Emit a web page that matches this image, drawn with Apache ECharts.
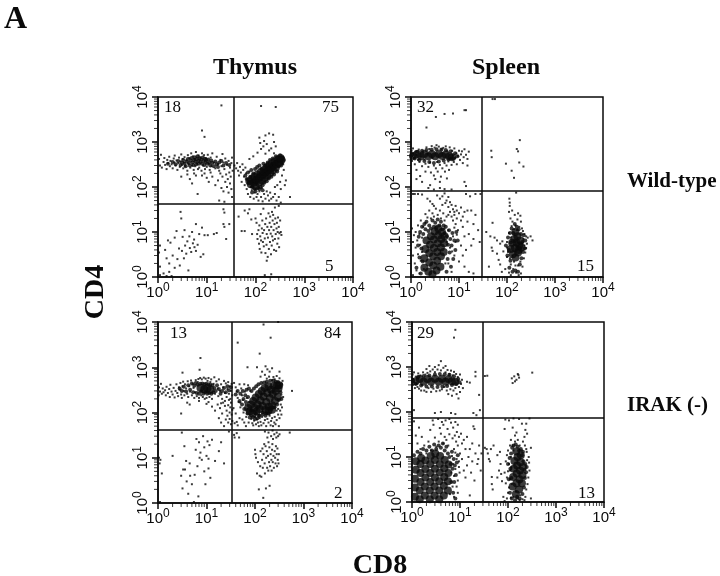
<!DOCTYPE html>
<html>
<head>
<meta charset="utf-8">
<title>CD4 / CD8</title>
<style>
    html, body { margin: 0; padding: 0; background: #fff; }
    #chart { width: 720px; height: 576px; }
</style>
<script src="https://cdn.jsdelivr.net/npm/echarts@6/dist/echarts.min.js"></script>
</head>
<body>
<div id="chart"></div>
<script>
    // every pair is [CD8, CD4]
    const thymusWtDots = [
        [1.05,420],[1.1,300],[1.15,520],[1.2,270],[1.3,360],[1.35,440],[1.4,310],[1.5,250],[1.55,400],[1.6,340],[1.7,470],[1.75,290],[1.8,380],[1.9,320],[2,260],[2.1,430],[2.15,350],[2.2,500],[2.3,300],[2.4,390],[2.5,240],[2.6,340],[2.7,450],[2.8,280],[2.9,370],[3,530],[3.1,310],[3.2,420],[3.3,260],[3.4,350],[3.5,460],[3.6,290],[3.8,390],[4,230],[4.1,510],[4.2,330],[4.4,440],[4.6,270],[4.8,560],[5,300],[5.2,480],[5.4,240],[5.6,420],[5.8,290],[6,600],[6.3,330],[6.6,250],[6.8,500],[7,270],[7.4,460],[7.8,230],[8,560],[8.4,300],[8.8,510],[9.2,250],[9.6,440],[10,280],[10.5,520],[11,330],[11.5,240],[12,450],[12.5,290],[13,560],[14,350],[15,260],[16,470],[17,320],[18,230],[19,400],[20,290],[21,540],[22,350],[23,250],[24,430],[26,310],[28,380],[30,270],[32,340],[33,450],[34,230],
        [3,170],[4,190],[4.5,150],[5,120],[5.5,200],[6,180],[6.5,70],[8,180],[9,200],[10,160],[11,130],[12,210],[13,170],[15,110],[17,140],[19,200],[20,95],[21,170],[22,80],[24,130],[25,190],[26,100],[27,150],[28,75],[29,210],[30,120],[31,170],[32,90],[33,60],[18,50],[23,47],
        [20,6500],[8,1800],[9,1300],[130,6300],[260,6000],[150,1050],[160,1400],[190,1550],[230,1450],[120,1250],[125,950],[145,800],[170,900],[190,650],[240,1000],[260,800],[130,700],[210,720],[160,550],[110,580],[240,560],[90,480],[75,420],
        [37,300],[40,260],[42,340],[44,230],[46,180],[48,280],[50,210],[52,130],[54,320],[56,240],[58,170],[60,110],[62,270],[64,200],[66,90],[68,150],[70,70],[72,120],[75,220],[78,60],[80,100],[84,85],[88,130],[92,55],[96,75],[100,90],[105,60],[110,70],[115,50],[120,80],[130,60],[135,95],[140,48],[150,70],[160,55],[170,80],[180,65],[190,50],[200,75],[210,55],[230,60],[250,70],[270,50],[300,60],[330,45],[400,110],[420,140],[350,180],[320,130],[380,240],[370,320],[340,380],[360,430],[300,470],[280,110],[250,100],[510,60],[330,90],
        [1.1,5],[1.05,3.5],[1.1,1.7],[1.1,1.1],[1.3,1.2],[1.5,1.05],[1.7,1.3],[1.9,1.05],[1.4,4],[1.5,2.6],[1.6,6.5],[1.7,2],[1.8,5.8],[2,3],[2.2,1.6],[2.2,7.5],[2.4,10.5],[2.5,2.5],[2.7,4.3],[2.8,1.8],[2.9,28],[3,20],[3.1,3.8],[3.2,7.8],[3.4,2.6],[3.5,11],[3.6,5],[3.8,3.3],[4,6.2],[4.2,1.4],[4.4,8],[4.5,4.4],[4.8,3.6],[5,10],[5.2,5.6],[5.5,6.8],[5.6,4.6],[6,15],[6,3.8],[6.5,5.2],[7,9],[7.5,2.8],[8,12.5],[8.5,3.2],[9,8.5],[10.5,8.5],[14,9],[16,9.5],[22,15],[23,13],[25,7],[22,32],[23,27],[29,15],
        [60,30],[70,26],[45,22],[52,10.5],[60,10.5],[75,32],[82,19],[85,9],[100,20],[105,16],[108,9],[110,7],[115,11],[118,5.5],[120,14],[122,4.2],[125,8],[128,25],[130,6.5],[132,3.5],[135,12],[138,18],[140,9.5],[142,6],[145,33],[148,4.8],[150,11],[155,7.2],[158,15],[160,3.4],[165,20],[168,5.2],[170,9],[175,13],[178,2.8],[180,7.5],[185,26],[188,4.2],[190,11],[195,16],[198,6],[200,22],[205,9.2],[208,3.2],[210,13],[215,5],[218,28],[220,8],[225,18],[228,6.5],[230,24],[235,11],[240,4],[245,15],[250,7],[255,20],[260,9],[265,3.8],[270,12],[275,16],[280,5.5],[285,10],[290,21],[295,7.2],[300,13],[305,4.6],[310,9.4],[320,18],[330,10],[340,8.6],[170,2.3],[155,1.1],[210,1.15],[250,35],[300,38]
    ];
    const thymusWtMid = [
        [1.6,330],[2,360],[2.3,320],[2.6,380],[2.9,310],[3.1,350],[3.3,400],[3.5,330],[3.7,290],[3.9,370],[4.1,420],[4.3,340],[4.5,300],[4.7,390],[4.9,440],[5.1,350],[5.3,310],[5.5,400],[5.7,460],[5.9,370],[6.1,320],[6.3,420],[6.5,480],[6.7,380],[6.9,330],[7.1,430],[7.4,360],[7.7,410],[8,330],[8.3,450],[8.6,380],[8.9,310],[9.2,420],[9.5,360],[9.8,400],[10.2,330],[10.7,410],[11.2,350],[11.8,300],[12.4,390],[13,340],[14,290],[15,370],[16,320],[17,280],[18,350],[20,380],[22,300],[25,340],[29,310],
        [62,180],[66,150],[70,210],[72,130],[78,170],[82,240],[86,100],[90,200],[96,90],[98,250],[104,125],[108,280],[112,95],[120,300],[126,100],[132,250],[140,110],[145,330],[152,125],[160,300],[170,135],[178,350],[188,155],[198,400],[212,170],[225,430],[240,190],[262,480],[278,220],[300,290],[320,510],[350,340],[360,450],[380,400],[335,300],[120,90],[140,85],[100,80],[85,75]
    ];
    const thymusWtCore = [
        [75,135],[80,115],[85,150],[92,125],[95,170],[100,105],[105,145],[110,190],[118,125],[122,165],[128,215],[135,140],[140,185],[148,240],[155,160],[160,210],[168,270],[175,180],[182,235],[190,300],[200,205],[207,262],[218,335],[228,235],[235,295],[250,370],[262,270],[270,330],[290,410],[305,350],[325,440],[340,400]
    ];

    const spleenWtDots = [
        [1.03,640],[1.05,480],[1.05,380],[1.1,560],[1.1,720],[1.15,440],[1.2,320],[1.25,610],[1.3,520],[1.3,240],[1.4,400],[1.45,680],[1.5,360],[1.55,175],[1.6,470],[1.7,290],[1.8,590],[1.9,410],[2,330],[2,220],[2.1,760],[2.2,540],[2.3,280],[2.4,700],[2.5,350],[2.6,210],[2.7,810],[2.8,440],[3,300],[3,180],[3.1,750],[3.3,260],[3.4,850],[3.5,360],[3.6,220],[3.8,790],[4,310],[4.2,170],[4.3,690],[4.5,260],[4.7,740],[5,340],[5.1,220],[5.3,800],[5.5,300],[5.7,640],[6,370],[6.2,240],[6.4,760],[6.6,440],[7,310],[7.2,640],[7.5,500],[7.8,360],[8,720],[8.4,440],[8.8,560],[9,320],[9.5,490],[10,640],[10.5,400],[11,530],[11.5,620],[12,340],[12.5,460],[13,690],[14,520],[15,300],[15,420],[16,610],[13,130],[14,105],
        [2.1,2100],[3.3,3600],[5,4200],[7.5,4300],[13,5100],[14,5100],[1.3,150],[1.7,130],[2.5,110],[2.3,95],[3,88],[4,95],[5,90],[7,88],[5.6,155],[4,130],[3.2,150],
        [50,9000],[56,9000],[47,640],[48,460],[95,330],[160,700],[170,620],[185,1100],[180,350],[125,230],[140,160],[220,285],
        [1.1,70],[1.2,70],[1.4,70],[1.7,68],[2.2,55],[2.5,48],[2.8,42],[3,38],[3.5,65],[4,55],[4.5,62],[4.5,40],[5,72],[5.2,44],[5.5,50],[6,60],[6,36],[6.5,46],[7,40],[7.5,32],[8,28],[8.5,38],[9,30],[10,26],[11,35],[12,22],[13,28],[14,70],[15,30],[15,17],[17,62],[18,30],[20,15],[22,70],[22,24],[25,11],[28,70],[27,6],[20,7],[16,9],[18,5],[14,4],[12,13],[13,8],[11,18],[12,3],[13,1.7],[16,1.3],[20,1.2],[11,5],[10,2.2],[9.5,11],[9,20],[8.5,15],[8,3],[8,24],[7.5,8],[7.5,18],[7,1.3],[7,22],[6.5,4.5],[6.5,28],[6,2],[6,11],[6,24],[1.05,12],[1.1,1.1],[1.1,3],[1.1,6],[1.15,8.5],[1.2,2],[1.25,4.5],[1.25,10],[1.3,1.4],[1.35,6.5],[1.4,3.2],[1.4,14],[1.5,9],[1.5,1.2],[1.55,5.2],[1.6,2.3],[1.6,18],[1.7,7.5],[1.7,3.6],[1.8,13],[1.85,1.5],[2,25],[2,16],[2.2,21],[2.4,30],[2.6,20],[2.8,26],[3,22],[3.3,33],[3.6,24],[4,30],[4.2,20],[4.7,26],[5,18],[5.5,22],[5.5,6],[5.2,2],[5,12],[8.5,6],[9,8.7],[7.2,3.7],[8,12.5],
        [50,16],[37,10],[45,8],[55,7.5],[62,6.5],[72,5.5],[80,6.2],[48,4.5],[50,3.8],[62,3.3],[67,2.4],[72,1.9],[42,1.7],[78,1.3],[84,3.7],[100,2.8],[92,1.5],[110,1.25],[120,1.1],[112,55],[114,45],[114,38],[110,28],[155,75],[128,30],[145,24],[118,20],[170,26],[190,23],[130,17],[150,14],[165,19],[180,13],[140,11.5],[205,12],[110,9.5],[120,7.5],[100,6],[230,9],[250,8],[270,7.5],[310,8],[340,6.5],[260,5.5],[240,3.5],[225,2.6],[210,1.7],[195,1.2],[175,1.1],[155,1.25],[135,1.5],[120,1.9],[115,2.6],[105,3.6],[100,4.5],[250,4.4],[220,7],[230,5],[215,10.5],[125,13.5],[160,11],[195,17],[150,1.8],[170,1.8],[190,2.2],[140,2.2],[130,3]
    ];
    const spleenWtMid = [
        [1.05,520],[1.2,430],[1.35,610],[1.5,400],[1.7,640],[1.9,380],[2.1,660],[2.4,360],[2.7,670],[3,340],[3.4,690],[3.8,370],[4.3,680],[4.8,390],[5.3,660],[6,410],[6.7,620],[7.5,430],[8.3,560],[9.3,480],
        [1.3,1.6],[1.4,5],[1.45,7.8],[1.5,2.7],[1.55,10],[1.6,1.2],[1.65,4.3],[1.7,13],[1.75,2.2],[1.8,9],[1.9,15],[2,11.5],[2.1,17],[2.3,10.5],[2.4,14],[2.6,12],[2.8,18],[3,13],[3.2,16],[3.4,12.5],[3.6,19],[3.9,14],[4.2,17],[4.5,11.5],[4.8,14],[5,9.5],[5.3,13],[5.5,1.3],[5.6,8],[5.8,2.5],[5.9,5.2],[6.2,11],[6.4,3.5],[6.6,7],[6.8,1.7],[7,5],[7.3,9.5],[7.6,2.5],[8,6.5],[8.4,4],[8.8,10],[9.4,6.5],
        [95,5],[102,3],[105,7.5],[110,4],[112,1.6],[115,9.5],[118,2.3],[120,5.8],[125,12],[130,1.3],[135,9.5],[145,15],[150,1.4],[160,13],[170,1.3],[175,11.5],[185,1.9],[195,9],[200,2.6],[210,6],[215,3.6],[222,8.5],[235,4.3],[240,6.5]
    ];
    const spleenWtCore = [
        [1.1,490],[1.35,540],[1.6,480],[1.9,540],[2.3,480],[2.7,540],[3.2,480],[3.8,540],[4.5,490],[5.3,530],[6.3,480],[7.2,460],
        [1.9,1.6],[1.9,2.6],[2,4.2],[2.1,6.5],[2.3,1.3],[2.4,2.1],[2.4,3.4],[2.5,5.2],[2.6,8],[2.8,1.15],[2.9,1.8],[2.9,2.9],[3,4.4],[3,6.8],[3.1,10.2],[3.4,1.4],[3.5,2.3],[3.5,3.6],[3.6,5.6],[3.7,8.4],[3.7,12],[4.1,1.7],[4.2,2.9],[4.2,4.5],[4.3,7],[4.4,10],[4.8,3.6],[4.9,5.6],[5,8],
        [120,4.2],[128,5.8],[132,3.2],[142,7],[146,4.4],[150,2.7],[158,5.8],[165,8],[170,3.5],[180,5],[190,6.5],[150,10],[175,4],[200,4.5]
    ];

    const thymusKoDots = [
        [1.03,240],[1.05,360],[1.1,290],[1.15,430],[1.2,260],[1.25,340],[1.3,280],[1.4,310],[1.45,240],[1.5,370],[1.6,270],[1.7,330],[1.75,220],[1.8,410],[1.9,290],[2,250],[2.1,350],[2.2,215],[2.3,300],[2.4,420],[2.5,270],[2.6,230],[2.7,360],[2.8,320],[2.9,450],[3,250],[3.1,210],[3.2,380],[3.3,480],[3.4,300],[3.5,240],[3.6,420],[3.8,340],[4,260],[4.1,490],[4.2,220],[4.4,380],[4.6,290],[4.8,510],[5,240],[5.2,430],[5.4,350],[5.6,210],[5.8,280],[6,520],[6.3,230],[6.6,470],[6.8,550],[7,210],[7.4,580],[7.8,240],[8,540],[8.4,220],[8.8,590],[9.2,200],[9.6,560],[10,210],[10.5,500],[11,580],[11.5,220],[12,470],[12.5,540],[13,200],[14,430],[14.5,600],[15,260],[16,490],[17,340],[17.5,230],[18,540],[19,300],[20,420],[21,200],[22,360],[23,500],[24,270],[25,440],[26,220],[27,330],[28,470],[29,260],[30,380],[31,200],[32,300],[33,430],[34,240],[20,160],[24,180],
        [3,95],[3.2,760],[4,165],[4.5,150],[7,180],[7.2,880],[7.5,1600],[10,155],[11,170],[13,135],[15,110],[17,150],[18,75],[19,125],[20,60],[21,95],[22,165],[23,50],[24,140],[25,70],[26,110],[27,85],[28,60],[28,145],[29,190],[30,100],[30,72],[31,130],[32,55],[32,165],[33,90],[34,115],[34,65],
        [150,8800],[300,10000],[210,4500],[125,2000],[44,3500],[70,1000],[110,1000],[140,800],[165,1050],[180,900],[200,800],[225,950],[160,680],[195,620],[240,610],[280,640],[320,800],[130,620],[175,560],[225,520],[255,540],[320,570],[370,500],[580,300],
        [37,450],[40,360],[42,290],[44,210],[46,170],[48,420],[50,130],[52,340],[54,240],[56,190],[58,100],[60,420],[62,290],[64,150],[66,80],[68,210],[70,120],[72,400],[74,60],[76,170],[78,90],[80,300],[40,95],[42,62],[44,52],[48,75],[36,125],[38,58],[50,165],[55,70],[60,60],[65,50],[84,72],[88,58],[92,52],[96,66],[100,80],[105,55],[110,70],[115,60],[120,50],[125,75],[130,62],[135,52],[140,80],[150,58],[160,68],[170,50],[180,72],[190,60],[200,85],[210,52],[215,65],[225,75],[235,50],[250,60],[255,80],[265,55],[280,68],[300,90],[310,50],[320,75],[330,110],[340,150],[360,130],[380,220],[350,250],[300,120],[280,110],[350,90],
        [1.08,7.5],[1.05,10],[1.12,9],[1.2,4.5],[1.1,1.05],[2,11],[3,4],[3.1,36],[3.2,2.1],[3.3,5.5],[3.5,18],[3.6,5.5],[3.8,8.5],[3.9,3],[4.2,1.6],[4.5,7.5],[4.6,4],[5,2.6],[5.5,1.05],[5.7,4.2],[6,15],[6.2,26],[6.5,6.5],[6.8,1.4],[7,22],[7.2,10],[7.5,13],[8,9],[8.5,30],[9,17],[9,5],[9.5,2.6],[10,11],[10.5,23],[11,9.5],[11,5.8],[11.5,19],[12,3.6],[13,25],[15,8.5],[18,14],[20,22],[23,7.5],[29,38],[37,32],[38,28],[42,35],[47,28],
        [100,15],[102,12],[105,10],[110,4.5],[115,8],[120,2],[125,4],[128,6.5],[130,14],[135,3.8],[140,9],[142,16],[145,6],[148,1.3],[150,12],[155,20],[158,7.5],[160,4.5],[165,18],[168,2.1],[170,10],[175,14],[178,6],[180,28],[185,11],[188,5.2],[190,22],[195,8],[198,17],[200,2.4],[205,6.5],[210,12],[215,30],[218,9],[220,5.2],[225,15],[228,20],[232,8],[235,26],[240,11],[245,6],[250,33],[255,14],[260,10],[265,7.5],[270,18],[275,28],[280,12],[285,6.5],[290,16],[295,9],[300,30],[305,7.5],[310,12],[320,33],[520,36],[160,38],[190,36],[230,40],[280,36]
    ];
    const thymusKoMid = [
        [2.8,340],[3.1,300],[3.4,370],[3.8,290],[4.2,400],[4.6,320],[5,440],[5.3,280],[5.6,390],[6,450],[6.3,270],[6.6,410],[7,260],[7.4,430],[7.8,290],[8.2,440],[8.6,260],[9,420],[9.4,280],[9.8,430],[10.3,260],[10.8,420],[11.3,270],[12,410],[12.6,260],[13.2,400],[13.8,280],[14.5,350],[15.5,300],[16.5,400],[18,330],[19.5,260],[21,300],[23,350],[25,280],[27,380],[29,310],[32,360],
        [40,250],[44,300],[48,180],[50,260],[54,150],[56,300],[58,200],[60,120],[63,240],[65,170],[67,320],[70,95],[72,220],[75,340],[78,78],[82,110],[85,300],[90,80],[95,340],[100,72],[106,380],[112,75],[118,420],[125,85],[135,450],[145,90],[155,460],[165,85],[175,480],[190,95],[205,500],[220,120],[240,510],[255,130],[270,480],[285,150],[300,470],[310,190],[325,370],[335,280],[345,420],[350,200],[120,85],[145,100],[170,95],[105,95]
    ];
    const thymusKoCore = [
        [7.5,350],[9,325],[10.5,345],[12,320],
        [72,125],[78,105],[82,150],[90,95],[92,180],[98,125],[103,215],[108,105],[113,150],[120,255],[125,120],[130,185],[138,300],[143,140],[150,225],[158,350],[165,115],[170,170],[178,270],[190,380],[195,135],[203,210],[215,320],[225,145],[232,255],[245,390],[258,180],[268,300],[285,400],[295,220],[305,340],[190,110],[225,115],[315,400]
    ];

    const spleenKoDots = [
        [1.03,680],[1.05,540],[1.05,400],[1.1,460],[1.1,760],[1.1,110],[1.15,340],[1.2,610],[1.25,430],[1.3,360],[1.35,720],[1.4,330],[1.5,650],[1.55,300],[1.6,400],[1.7,760],[1.8,300],[1.9,680],[2,280],[2,900],[2.1,740],[2.2,340],[2.3,1050],[2.4,800],[2.5,280],[2.7,880],[2.8,330],[3,770],[3,1000],[3.2,290],[3.4,880],[3.6,1100],[3.8,300],[4,840],[4,1350],[4.2,320],[4.5,960],[4.7,360],[5,760],[5,1050],[5.3,300],[5.5,860],[5.7,250],[6,700],[6.3,320],[6.5,830],[6.8,230],[7,650],[7.3,300],[7.5,780],[8,340],[8.3,700],[8.5,250],[8.8,490],[9,600],[9.3,200],[9.5,360],[10,680],[10,280],[10.5,420],[11,520],[11.5,340],[14,470],[21,780],[21,620],[16,450],[25,240],[26,110],[3,95],[4,100],[6.5,95],[8,90],[7.5,4500],[8,6700],[19,95],[22,85],
        [33,630],[37,640],[120,560],[125,440],[135,620],[140,480],[150,520],[160,700],[170,580],[165,660],[320,750],
        [1.1,62],[1.2,30],[1.3,20],[1.4,45],[1.5,15],[1.6,28],[1.8,18],[2,12],[2.2,22],[2.4,40],[2.5,14],[2.7,65],[2.8,52],[3,27],[3.2,17],[3.5,70],[3.6,22],[3.8,44],[4,33],[4.2,60],[4.5,20],[4.5,52],[4.8,28],[5,65],[5.2,24],[5.5,42],[5.7,18],[6,70],[6,32],[6.5,58],[7,26],[7.2,45],[7.5,15],[7.8,30],[8,60],[8.3,22],[8.6,36],[9,52],[9,18],[9.5,28],[10,12],[10.5,33],[11,9],[11,20],[12,24],[12,5],[13,15],[13,3.5],[14,28],[14,6.5],[15,10],[16,1.4],[16,15],[17,4.5],[18,20],[18,8],[19,48],[20,42],[20,3],[21,12],[23,7],[25,18],[27,5],[28,12],[24,9],[9.5,6],[9,3],[9,1.6],[9.8,4.5],[9.5,8],[8.5,2.2],[8.5,9],[8,5.4],[8,12.5],[7.5,3.8],[7.5,1.3],[7.2,7],[7,2.2],[6.8,10.5],[6.6,4.5],[6.2,1.5],
        [33,16],[36,15],[38,12],[40,9],[42,8],[44,15],[50,18],[60,11],[68,13],[46,2.5],[48,1.9],[46,3.6],[60,3.5],[65,5],[72,4.2],[75,2.9],[70,7],[80,1.3],[85,1.05],[95,1.2],[100,1.6],[105,2.1],[90,2.6],[95,3.5],[85,4.5],[100,4.8],[110,3.2],[90,8],[95,11],[100,14],[105,7],[110,18],[85,42],[88,68],[105,65],[125,45],[130,72],[140,30],[150,35],[170,70],[195,55],[280,72],[240,55],[230,40],[250,33],[220,28],[205,22],[225,18],[240,15],[300,16],[270,10],[275,7.5],[280,5],[265,3.5],[255,2.5],[240,1.9],[230,1.3],[220,1.1],[300,1.2],[250,8.5],[245,13],[115,24],[125,18],[130,14],[140,22],[160,24],[175,18],[195,14],[115,10],[118,6],[110,5],[120,2.5],[130,1.3],[145,1.7],[160,1.2],[180,1.4],[200,1.15],[115,1.25],[150,1.2],[175,1.1]
    ];
    const spleenKoMid = [
        [1.05,500],[1.2,420],[1.35,600],[1.55,390],[1.75,630],[2,370],[2.3,650],[2.6,370],[3,680],[3.4,360],[3.8,700],[4.3,370],[4.8,690],[5.4,380],[6,670],[6.8,400],[7.5,620],[8.4,420],[9.2,540],[9.8,460],
        [1.1,11],[1.3,13],[1.5,12],[1.7,15],[2,14],[2.3,17],[2.6,14],[2.9,19],[3.2,15],[3.6,18],[4,16],[4.4,20],[4.8,14],[5.2,17],[5.6,12],[6,10],[6.4,7],[6.6,2.8],[6.8,13],[7,5.5],[7.2,1.6],[7.4,9],[7.6,2.8],[7.8,6.5],[8,1.2],[8.2,4],[8.6,7.5],[9,11],
        [100,7],[104,3.2],[108,9.5],[110,1.6],[112,5.5],[116,12],[118,3.4],[120,1.2],[122,16],[130,18],[140,1.1],[145,19],[155,1.3],[160,17],[170,14],[175,1.2],[185,15],[195,11],[200,1.5],[205,13],[210,8],[215,2.1],[220,5.2],[225,3.4],[230,7],[238,4.6],[245,6]
    ];
    const spleenKoCore = [
        [1.2,480],[1.45,540],[1.75,470],[2.1,540],[2.5,470],[3,550],[3.6,470],[4.2,550],[5,470],[5.8,540],[6.8,480],[8,470],
        [1.15,1.3],[1.15,2.1],[1.15,3.3],[1.2,5.2],[1.2,8],[1.45,1.15],[1.45,1.8],[1.5,2.8],[1.5,4.4],[1.5,7],[1.55,9.5],[1.85,1.4],[1.85,2.2],[1.9,3.5],[1.9,5.4],[1.9,8.4],[2.35,1.15],[2.35,1.8],[2.4,2.8],[2.4,4.4],[2.4,7],[2.45,10.5],[2.95,1.4],[2.95,2.2],[3,3.5],[3,5.5],[3,8.6],[3.05,12],[3.7,1.15],[3.7,1.8],[3.7,2.9],[3.8,4.5],[3.8,7],[3.85,10.5],[4.6,1.4],[4.6,2.3],[4.7,3.6],[4.7,5.6],[4.8,8.6],[5.6,1.8],[5.6,2.9],[5.7,4.4],[5.8,6.8],
        [125,2.2],[128,3.6],[132,5.5],[136,8.2],[146,1.5],[150,2.6],[152,4.3],[155,6.5],[158,10],[170,1.9],[174,3.2],[178,5],[182,7.6],[185,11],[195,2.6],[200,4],[205,6],[150,13.5]
    ];

    const minorValues = [2,3,4,5,6,7,8,9,20,30,40,50,60,70,80,90,200,300,400,500,600,700,800,900,2000,3000,4000,5000,6000,7000,8000,9000];

    const panelDots = [thymusWtDots, spleenWtDots, thymusKoDots, spleenKoDots];
    const panelMids = [thymusWtMid, spleenWtMid, thymusKoMid, spleenKoMid];
    const panelCores = [thymusWtCore, spleenWtCore, thymusKoCore, spleenKoCore];
    const gateCd8 = [35, 30, 33, 30];
    const gateCd4 = [42, 84, 42, 76];

    const boxes = [
        { left: 158, top: 97, width: 195, height: 180 },
        { left: 411, top: 97, width: 192, height: 180 },
        { left: 158, top: 322, width: 194, height: 181 },
        { left: 412, top: 322, width: 192, height: 180 }
    ];
    const quadrantLabels = [
        [['18', 164, 108], ['75', 322, 108], ['5', 325, 267]],
        [['32', 417, 108], ['15', 577, 267]],
        [['13', 170, 334], ['84', 324, 334], ['2', 334, 494]],
        [['29', 417, 334], ['13', 578, 494]]
    ];

    const INK = '#0a0a0a';
    const SERIF = '"Liberation Serif", serif';

    function tickLabel(value) {
        return '{b|10}{s|' + Math.round(Math.log10(value)) + '}';
    }
    const tickRich = {
        b: { fontFamily: 'Liberation Sans', fontSize: 15, color: INK },
        s: { fontFamily: 'Liberation Sans', fontSize: 12, color: INK, padding: [0, 0, 9, 0] }
    };

    let grid = [], xAxis = [], yAxis = [], series = [];
    boxes.forEach(function (box, i) {
        grid.push({ left: box.left, top: box.top, width: box.width, height: box.height, show: true, borderColor: INK, borderWidth: 1.5, backgroundColor: '#fff' });
        let axisBase = {
            type: 'log', logBase: 10, min: 1, max: 10000, gridIndex: i,
            splitLine: { show: false }, minorTick: { show: false }, minorSplitLine: { show: false },
            axisLine: { show: true, onZero: false, lineStyle: { color: INK, width: 1.5 } },
            axisTick: { show: true, length: 6, lineStyle: { color: INK, width: 1.5 } }
        };
        xAxis.push(Object.assign({}, axisBase, { position: 'bottom', axisLabel: { margin: 5, formatter: tickLabel, rich: tickRich, hideOverlap: false, showMinLabel: true, showMaxLabel: true } }));
        yAxis.push(Object.assign({}, axisBase, { position: 'left', axisLabel: { margin: 5, rotate: 90, formatter: tickLabel, rich: tickRich, hideOverlap: false, showMinLabel: true, showMaxLabel: true } }));

        let base = { type: 'scatter', xAxisIndex: i, yAxisIndex: i, silent: true, animation: false, itemStyle: { color: INK } };
        series.push(Object.assign({}, base, {
            data: panelDots[i], symbol: 'rect', symbolSize: 2,
            markLine: {
                silent: true, symbol: 'none', animation: false, label: { show: false },
                lineStyle: { color: INK, width: 1.5, type: 'solid' },
                data: [{ xAxis: gateCd8[i] }, { yAxis: gateCd4[i] }]
            }
        }));
        series.push(Object.assign({}, base, { data: panelMids[i], symbol: 'circle', symbolSize: 4 }));
        series.push(Object.assign({}, base, { data: panelCores[i], symbol: 'circle', symbolSize: 8 }));
        // minor ticks sit just outside the frame, at the log positions 2..9 of each decade
        series.push(Object.assign({}, base, {
            data: minorValues.map(function (v) { return [v, 1]; }),
            symbol: 'rect', symbolSize: [1, 4], symbolOffset: [0, 2], clip: false
        }));
        series.push(Object.assign({}, base, {
            data: minorValues.map(function (v) { return [1, v]; }),
            symbol: 'rect', symbolSize: [4, 1], symbolOffset: [-2, 0], clip: false
        }));
    });

    function text(str, x, y, size, extra) {
        return {
            type: 'text', x: x, y: y, z: 50,
            style: Object.assign({ text: str, fill: INK, font: size + 'px ' + SERIF, textAlign: 'left', textVerticalAlign: 'middle' }, extra || {})
        };
    }
    let labels = [
        text('A', 4, 20, 0, { font: 'bold 32px ' + SERIF }),
        text('Thymus', 255, 68, 0, { font: 'bold 24px ' + SERIF, textAlign: 'center' }),
        text('Spleen', 506, 68, 0, { font: 'bold 24px ' + SERIF, textAlign: 'center' }),
        text('Wild-type', 627, 182, 0, { font: 'bold 21px ' + SERIF }),
        text('IRAK (-)', 627, 406, 0, { font: 'bold 21px ' + SERIF }),
        text('CD8', 380, 566, 0, { font: 'bold 28px ' + SERIF, textAlign: 'center' }),
        Object.assign(text('CD4', 96, 292, 0, { font: 'bold 28px ' + SERIF, textAlign: 'center' }), { rotation: Math.PI / 2 })
    ];
    quadrantLabels.forEach(function (panel) {
        panel.forEach(function (q) {
            labels.push(text(q[0], q[1], q[2], 17));
        });
    });

    let myChart = echarts.init(document.getElementById('chart'), null, { renderer: 'canvas' });
    myChart.setOption({
        animation: false,
        backgroundColor: '#fff',
        grid: grid,
        xAxis: xAxis,
        yAxis: yAxis,
        series: series,
        graphic: { elements: labels }
    });
</script>
</body>
</html>
